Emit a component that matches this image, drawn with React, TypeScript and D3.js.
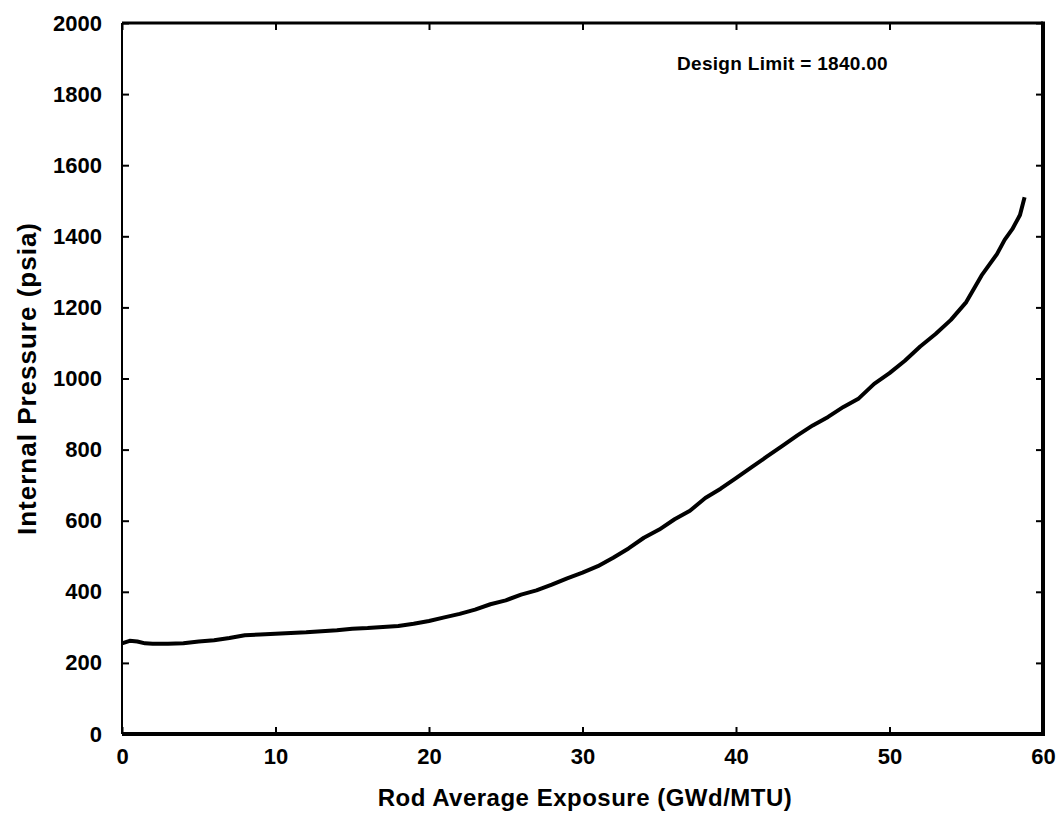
import React, { useEffect, useRef } from 'react';
import * as d3 from 'd3';

// Rod average exposure (GWd/MTU) and internal pressure (psia)
const exposure = [
  0, 0.5, 1, 1.5, 2, 3, 4, 5, 6, 7, 8, 9, 10, 11, 12, 13, 14, 15, 16, 17, 18, 19, 20,
  21, 22, 23, 24, 25, 26, 27, 28, 29, 30, 31, 32, 33, 34, 35, 36, 37, 38, 39, 40,
  41, 42, 43, 44, 45, 46, 47, 48, 49, 50, 51, 52, 53, 54, 55, 56, 57, 57.5, 58, 58.5, 58.8
];
const pressure = [
  255, 262, 260, 255, 254, 254, 255, 260, 264, 270, 278, 280, 282, 284, 286, 289, 292, 296, 298, 301, 304, 310, 318,
  328, 338, 350, 365, 376, 392, 404, 420, 438, 454, 472, 496, 522, 552, 575, 604, 628, 664, 690, 720,
  750, 780, 810, 840, 868, 892, 920, 944, 985, 1015, 1050, 1090, 1125, 1165, 1215, 1290, 1350, 1390, 1420, 1460, 1510
];

const xTicks = [0, 10, 20, 30, 40, 50, 60];
const yTicks = [0, 200, 400, 600, 800, 1000, 1200, 1400, 1600, 1800, 2000];

const xTitle = 'Rod Average Exposure (GWd/MTU)';
const yTitle = 'Internal Pressure (psia)';
const note = 'Design Limit = 1840.00';

const App = () => {
  const ref = useRef<SVGSVGElement>(null);

  useEffect(() => {
    const width = 1063;
    const height = 822;
    const margin = { top: 23, right: 20, bottom: 88, left: 122 };
    const font = '"Liberation Sans", Arial, sans-serif';

    const x = d3.scaleLinear().domain([0, 60]).range([margin.left, width - margin.right]);
    const y = d3.scaleLinear().domain([0, 2000]).range([height - margin.bottom, margin.top]);

    const svg = d3.select(ref.current);
    svg.selectAll('*').remove();

    svg.append('rect').attr('width', width).attr('height', height).attr('fill', '#fff');

    // inward ticks on all four sides
    const tick = 7;
    const fmt = d3.format('d');
    const bottom = svg.append('g').attr('transform', `translate(0,${y(0)})`)
      .call(d3.axisBottom(x).tickValues(xTicks).tickFormat(fmt).tickSizeInner(-tick).tickSizeOuter(0).tickPadding(14));
    const top = svg.append('g').attr('transform', `translate(0,${y(2000)})`)
      .call(d3.axisTop(x).tickValues(xTicks).tickSizeInner(-tick).tickSizeOuter(0).tickFormat(() => ''));
    const left = svg.append('g').attr('transform', `translate(${x(0)},0)`)
      .call(d3.axisLeft(y).tickValues(yTicks).tickFormat(fmt).tickSizeInner(-tick).tickSizeOuter(0).tickPadding(20));
    const right = svg.append('g').attr('transform', `translate(${x(60)},0)`)
      .call(d3.axisRight(y).tickValues(yTicks).tickSizeInner(-tick).tickSizeOuter(0).tickFormat(() => ''));

    [bottom, top, left, right].forEach(g => {
      g.select('.domain').remove();
      g.selectAll('line').attr('stroke', '#000').attr('stroke-width', 2);
      g.selectAll('text')
        .attr('fill', '#000')
        .style('font-family', font)
        .style('font-weight', 'bold')
        .style('font-size', '22px');
    });

    // frame
    svg.append('line').attr('x1', x(0)).attr('x2', x(0)).attr('y1', y(0)).attr('y2', y(2000))
      .attr('stroke', '#000').attr('stroke-width', 2);
    svg.append('line').attr('x1', x(0)).attr('x2', x(60)).attr('y1', y(2000)).attr('y2', y(2000))
      .attr('stroke', '#000').attr('stroke-width', 3);
    svg.append('line').attr('x1', x(0)).attr('x2', x(60) + 2).attr('y1', y(0)).attr('y2', y(0))
      .attr('stroke', '#000').attr('stroke-width', 4);
    svg.append('line').attr('x1', x(60)).attr('x2', x(60)).attr('y1', y(2000) - 1.5).attr('y2', y(0) + 2)
      .attr('stroke', '#000').attr('stroke-width', 4);

    // curve
    const data = exposure.map((e, i) => ({ e, p: pressure[i] }));
    const line = d3.line<{ e: number; p: number }>().x(d => x(d.e)).y(d => y(d.p));
    svg.append('path').datum(data).attr('d', line)
      .attr('fill', 'none').attr('stroke', '#000').attr('stroke-width', 4)
      .attr('stroke-linejoin', 'round');

    // titles
    svg.append('text')
      .attr('x', 585).attr('y', 806)
      .attr('text-anchor', 'middle')
      .style('font-family', font).style('font-weight', 'bold').style('font-size', '24px')
      .style('letter-spacing', '0.5px')
      .text(xTitle);

    svg.append('text')
      .attr('transform', `translate(36,${y(1000)}) rotate(-90)`)
      .attr('text-anchor', 'middle')
      .style('font-family', font).style('font-weight', 'bold').style('font-size', '26px')
      .style('letter-spacing', '1px')
      .text(yTitle);

    svg.append('text')
      .attr('x', 677).attr('y', 70)
      .style('font-family', font).style('font-weight', 'bold').style('font-size', '19px')
      .style('letter-spacing', '0.3px')
      .text(note);
  }, []);

  return (
    <svg ref={ref} width={1063} height={822} style={{ position: 'absolute', left: 0, top: 0 }} />
  );
};

export default App;
